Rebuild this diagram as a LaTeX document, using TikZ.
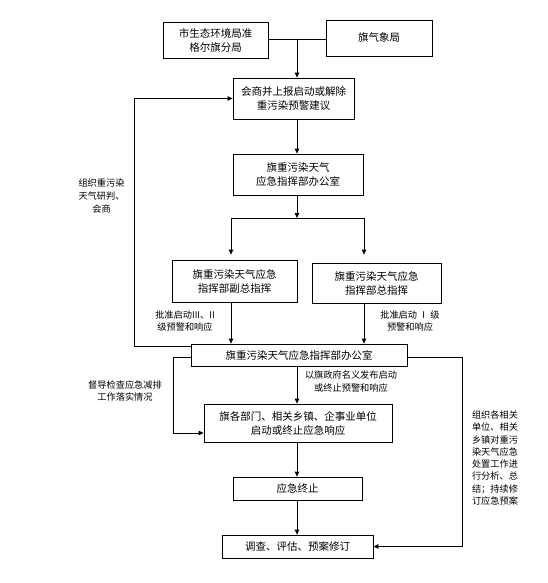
\documentclass[tikz,border=0pt]{standalone}
\usepackage{fontspec}
\setmainfont{Noto Sans CJK SC}
\usetikzlibrary{arrows.meta, calc, positioning}
\tikzset{
  box/.style  = {draw, line width=0.8pt, align=center, inner sep=0pt,
                 font=\fontsize{10.5}{14}\selectfont},
  flow/.style = {-{Triangle[length=5pt,width=4.5pt]}, line width=0.8pt},
  link/.style = {line width=0.8pt},
  note/.style = {align=center, inner sep=0pt, font=\fontsize{9.2}{12.8}\selectfont},
}

\begin{document}
\begin{tikzpicture}[x=1pt,y=-1pt]
  \useasboundingbox (0,0) rectangle (548,583);
  % boxes
  \node[box, minimum width=105pt, minimum height=36pt] (hb) at (215.5,40) {市生态环境局准\\格尔旗分局};
  \node[box, minimum width=106pt, minimum height=36pt] (qx) at (379,38) {旗气象局};
  \node[box, minimum width=121pt, minimum height=41pt] (hs) at (293.5,98.5) {会商并上报启动或解除\\重污染预警建议};
  \node[box, minimum width=130pt, minimum height=41pt] (bgs1) at (298,174.5) {旗重污染天气\\应急指挥部办公室};
  \node[box, minimum width=125pt, minimum height=42pt] (fz) at (234.5,281) {旗重污染天气应急\\指挥部副总指挥};
  \node[box, minimum width=129pt, minimum height=40pt] (zz) at (376.5,283) {旗重污染天气应急\\指挥部总指挥};
  \node[box, minimum width=216pt, minimum height=22pt] (bgs2) at (299,355) {旗重污染天气应急指挥部办公室};
  \node[box, minimum width=188pt, minimum height=38pt] (xy) at (298,423) {旗各部门、相关乡镇、企事业单位\\启动或终止应急响应};
  \node[box, minimum width=129pt, minimum height=23pt] (end) at (297.5,488.5) {应急终止};
  \node[box, minimum width=151pt, minimum height=23pt] (dc) at (297.5,546.5) {调查、评估、预案修订};
  % bend points
  \coordinate (j) at (297,39);
  \coordinate (s) at (297,218);
  \coordinate (sl) at (231,218);
  \coordinate (sr) at (364,218);
  \coordinate (fb) at (134,346);
  \coordinate (dl) at (173,357);
  \coordinate (dr) at (462,357);
  % main flow
  \draw[link] (hb.east |- j) -- (qx.west |- j);
  \draw[flow] (j) -- (j |- hs.north);
  \draw[flow] (j |- hs.south) -- (j |- bgs1.north);
  \draw[flow] (j |- bgs1.south) -- (s);
  \draw[link] (sl) -- (sr);
  \draw[flow, shorten >=5pt] (sl) -- (sl |- fz.north);
  \draw[flow, shorten >=8pt] (sr) -- (sr |- zz.north);
  \draw[flow] (sl |- fz.south) -- (sl |- bgs2.north);
  \draw[flow] (sr |- zz.south) -- (sr |- bgs2.north);
  \draw[flow] (j |- bgs2.south) -- (j |- xy.north);
  \draw[flow] (j |- xy.south) -- (j |- end.north);
  \draw[flow] (j |- end.south) -- (j |- dc.north);
  % side loops
  \draw[flow] (bgs2.west |- fb) -- (fb) |- (hs.west);
  \draw[flow] (bgs2.west |- dl) -- (dl) |- ([yshift=-10pt]xy.west);
  \draw[flow] (bgs2.east |- dr) -- (dr) |- (dc.east);
  % labels
  \node[note] (n1) at (101.5,196) {组织重污染\\天气研判、\\会商};
  \node[note] (n2) at (185,321) {批准启动III、II\\级预警和响应};
  \node[note] (n3) at (410,321) {批准启动 Ⅰ 级\\预警和响应};
  \node[note] (n4) at (351,381.5) {以旗政府名义发布启动\\或终止预警和响应};
  \node[note] (n5) at (125,391) {督导检查应急减排\\工作落实情况};
  \node[note, align=left, font=\fontsize{9.2}{12.3}\selectfont] (n6) at (495,458)
    {组织各相关\\单位、相关\\乡镇对重污\\染天气应急\\处置工作进\\行分析、总\\结；持续修\\订应急预案};
\end{tikzpicture}
\end{document}
